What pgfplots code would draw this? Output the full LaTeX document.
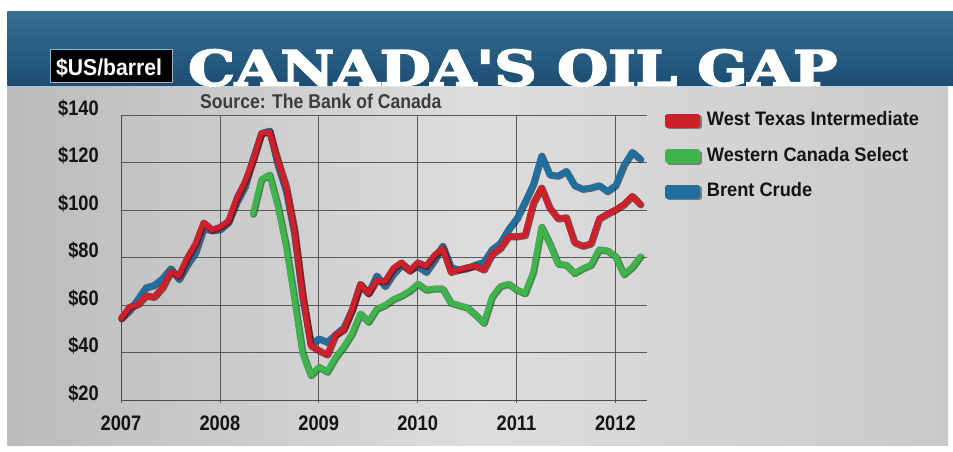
\documentclass[border=0pt]{standalone}
\usepackage{fontspec}
\setmainfont{Liberation Sans}
\newfontfamily\tickfont[FakeStretch=0.87]{Liberation Sans}
\newfontfamily\legfont[FakeStretch=0.935]{Liberation Sans}
\newfontfamily\srcfont[FakeStretch=0.88]{Liberation Sans}
\newfontfamily\boxfont[FakeStretch=0.92]{Liberation Sans}
\newfontfamily\titlefont[FakeBold=3.5]{DejaVu Serif}
\usepackage{graphicx}
\usepackage{pgfplots}
\usepackage{pgfplotstable}
\pgfplotsset{compat=1.18}

\definecolor{wti}{HTML}{CE1F2B}
\definecolor{wtiD}{HTML}{5E0F14}
\definecolor{wcs}{HTML}{3DB54A}
\definecolor{wcsD}{HTML}{1C5E24}
\definecolor{brent}{HTML}{1F70A0}
\definecolor{brentD}{HTML}{0E3550}
\definecolor{hdrT}{HTML}{386F92}
\definecolor{hdrB}{HTML}{1C4E73}
\definecolor{bgL}{HTML}{BBBBBB}
\definecolor{bgM}{HTML}{DDDDDD}
\definecolor{bgR}{HTML}{CACACA}
\definecolor{boxB}{HTML}{9FB3C4}
\definecolor{srcgray}{HTML}{3D3D3D}

\tikzset{
  seriesline/.style={line width=5.3pt, line join=round, line cap=round},
  shadowline/.style={line width=7pt, line join=round, line cap=round, opacity=0.7, xshift=0.8pt, yshift=-0.8pt},
}

% monthly averages, $US/barrel
\pgfplotstableread{
x y
2007.000 54.5
2007.083 59.3
2007.167 60.4
2007.250 64.0
2007.333 63.5
2007.417 67.5
2007.500 74.1
2007.583 72.4
2007.667 79.9
2007.750 85.8
2007.833 94.8
2007.917 91.7
2008.000 93.0
2008.083 95.4
2008.167 105.0
2008.250 112.0
2008.333 121.0
2008.417 132.5
2008.500 133.0
2008.583 121.0
2008.667 110.0
2008.750 92.0
2008.833 65.0
2008.917 43.0
2009.000 41.0
2009.083 39.2
2009.167 47.5
2009.250 49.7
2009.333 58.0
2009.417 69.0
2009.500 65.0
2009.583 70.5
2009.667 70.0
2009.750 75.5
2009.833 78.0
2009.917 74.5
2010.000 78.0
2010.083 76.5
2010.167 81.0
2010.250 84.0
2010.333 74.0
2010.417 75.0
2010.500 76.0
2010.583 76.5
2010.667 75.0
2010.750 81.5
2010.833 84.0
2010.917 89.0
2011.000 89.0
2011.083 89.5
2011.167 103.0
2011.250 109.5
2011.333 101.0
2011.417 96.5
2011.500 97.0
2011.583 86.5
2011.667 85.0
2011.750 86.0
2011.833 96.5
2011.917 98.5
2012.000 100.3
2012.083 102.5
2012.167 106.0
2012.250 102.5
}\wtitable

\pgfplotstableread{
x y
2007.000 54.6
2007.083 57.8
2007.167 62.5
2007.250 67.5
2007.333 68.5
2007.417 71.3
2007.500 75.5
2007.583 71.0
2007.667 77.1
2007.750 82.3
2007.833 92.5
2007.917 91.5
2008.000 92.0
2008.083 95.0
2008.167 103.5
2008.250 110.0
2008.333 122.0
2008.417 132.5
2008.500 133.5
2008.583 119.0
2008.667 108.0
2008.750 90.0
2008.833 63.0
2008.917 43.5
2009.000 46.0
2009.083 44.5
2009.167 47.7
2009.250 50.6
2009.333 58.0
2009.417 68.6
2009.500 65.0
2009.583 72.5
2009.667 68.0
2009.750 73.2
2009.833 77.0
2009.917 75.0
2010.000 76.5
2010.083 74.0
2010.167 79.0
2010.250 85.0
2010.333 76.0
2010.417 75.0
2010.500 75.6
2010.583 77.1
2010.667 78.2
2010.750 83.5
2010.833 86.1
2010.917 92.0
2011.000 96.5
2011.083 103.5
2011.167 111.0
2011.250 123.0
2011.333 115.0
2011.417 114.5
2011.500 116.5
2011.583 110.5
2011.667 109.0
2011.750 109.5
2011.833 110.5
2011.917 108.0
2012.000 110.5
2012.083 119.0
2012.167 124.5
2012.250 121.5
}\brenttable

\pgfplotstableread{
x y
2008.333 98.5
2008.417 113.0
2008.500 115.0
2008.583 102.0
2008.667 85.0
2008.750 63.0
2008.833 40.0
2008.917 30.5
2009.000 34.0
2009.083 32.0
2009.167 38.0
2009.250 42.5
2009.333 48.0
2009.417 56.5
2009.500 53.0
2009.583 58.5
2009.667 60.0
2009.750 62.5
2009.833 64.0
2009.917 66.0
2010.000 69.0
2010.083 66.5
2010.167 67.0
2010.250 67.0
2010.333 61.0
2010.417 60.0
2010.500 59.0
2010.583 56.0
2010.667 52.5
2010.750 63.5
2010.833 68.0
2010.917 69.0
2011.000 66.5
2011.083 65.0
2011.167 74.0
2011.250 93.0
2011.333 86.0
2011.417 77.5
2011.500 77.0
2011.583 73.5
2011.667 75.5
2011.750 77.0
2011.833 83.5
2011.917 83.0
2012.000 80.5
2012.083 73.0
2012.167 76.0
2012.250 80.5
}\wcstable

\begin{document}
\begin{tikzpicture}
\useasboundingbox (0,0) rectangle (953pt,451pt);
\fill[white] (0,0) rectangle (953pt,451pt);
% studio background and header band
\shade[left color=bgL, right color=bgR, middle color=bgM] (7.3pt,6pt) rectangle (948pt,366pt);
\shade[top color=hdrT, bottom color=hdrB] (7.3pt,366pt) rectangle (953pt,439.3pt);
\node[anchor=base west, inner sep=0pt, text=white] at (188pt,365.5pt)
  {\resizebox{649pt}{36pt}{\titlefont\bfseries CANADA'S OIL GAP}};
\node[anchor=north west, fill=black, draw=boxB, line width=1pt, minimum width=121.7pt,
  minimum height=32.4pt, inner sep=0pt] at (50pt,401.7pt) {};
\node[anchor=base west, inner sep=0pt, text=white] at (56pt,375pt)
  {\boxfont\bfseries\fontsize{23}{23}\selectfont \$US/barrel};
\node[anchor=base west, inner sep=0pt, text=srcgray] at (200pt,342.5pt)
  {\srcfont\bfseries\fontsize{20}{20}\selectfont Source: The Bank of Canada};

\begin{axis}[
  at={(121pt,51pt)}, anchor=south west,
  scale only axis, width=526pt, height=285pt,
  xmin=2007, xmax=2012.32, ymin=20, ymax=140,
  axis x line=bottom, axis y line=left,
  axis line style={-, draw=black!70, line width=0.7pt},
  xtick={2007,2008,2009,2010,2011,2012},
  xticklabels={2007,2008,2009,2010,2011,2012},
  ytick={20,40,60,80,100,120,140},
  yticklabels={\$20,\$40,\$60,\$80,\$100,\$120,\$140},
  grid=major, major grid style={draw=black!65, line width=0.7pt},
  tick align=outside, major tick length=3pt,
  ytick style={draw=none}, xtick style={draw=black!65, line width=0.7pt},
  ticklabel style={font=\tickfont\bfseries\fontsize{21}{21}\selectfont, text=black!92, inner sep=0pt},
  yticklabel style={anchor=base east, xshift=-19pt},
  xticklabel style={anchor=north, yshift=-13pt},
  clip=false,
  legend style={at={(1.034,1.0116)}, anchor=north west, draw=none, fill=none,
    inner sep=0pt, font=\legfont\bfseries\fontsize{19.5}{19.5}\selectfont, text=black!92,
    nodes={inner sep=0pt, text height=14pt, text depth=4pt},
    /tikz/row sep=17.5pt, /tikz/column sep=5pt},
  legend cell align=left,
  legend image code/.code={
    \fill[black!60, opacity=0.8] (1.5pt,-5.5pt) rectangle (31.5pt,3pt);
    \fill[#1] (0pt,-4pt) rectangle (30pt,4.5pt);},
]
\addplot[forget plot, shadowline, color=brentD] table {\brenttable};
\addplot[forget plot, seriesline, color=brent] table {\brenttable};
\addplot[forget plot, shadowline, color=wtiD] table {\wtitable};
\addplot[seriesline, color=wti] table {\wtitable};
\addlegendentry{West Texas Intermediate}
\addplot[forget plot, shadowline, color=wcsD] table {\wcstable};
\addplot[seriesline, color=wcs] table {\wcstable};
\addlegendentry{Western Canada Select}
\addlegendimage{seriesline, color=brent}
\addlegendentry{Brent Crude}
\end{axis}
\end{tikzpicture}
\end{document}
